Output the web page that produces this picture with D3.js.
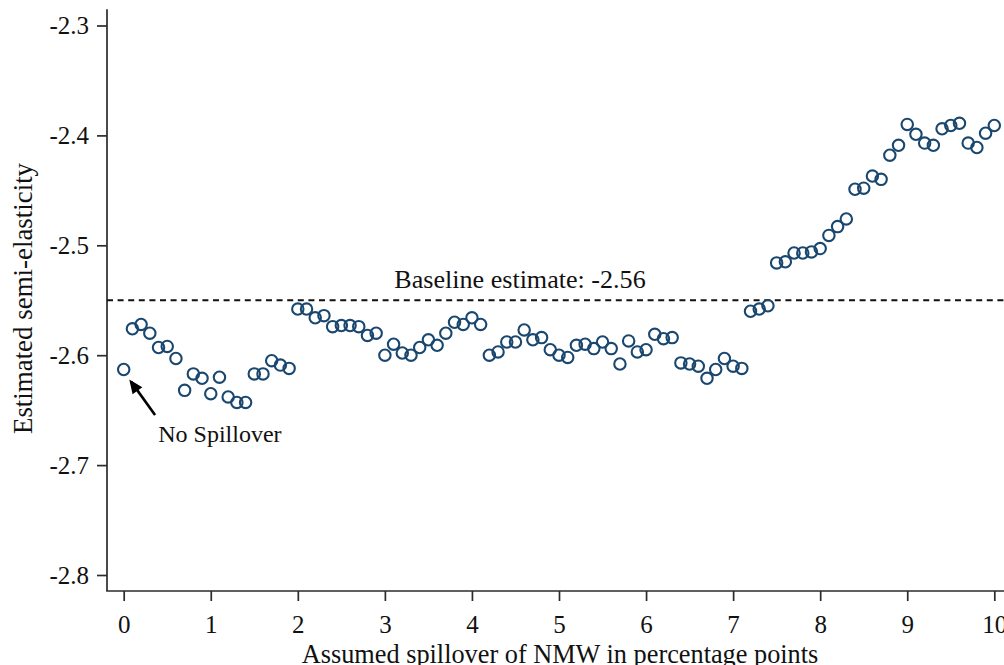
<!DOCTYPE html>
<html><head><meta charset="utf-8">
<script src="https://cdn.jsdelivr.net/npm/d3@7"></script>
<style>
body{margin:0;background:#fff;overflow:hidden;}
svg text{font-family:"Liberation Serif","Times New Roman",serif;fill:#111;}
</style>
</head><body>
<svg id="c" width="1004" height="665"></svg>
<script>
// ---- data ----
const spillover = [0,0.1,0.2,0.3,0.4,0.5,0.6,0.7,0.8,0.9,
  1,1.1,1.2,1.3,1.4,1.5,1.6,1.7,1.8,1.9,
  2,2.1,2.2,2.3,2.4,2.5,2.6,2.7,2.8,2.9,
  3,3.1,3.2,3.3,3.4,3.5,3.6,3.7,3.8,3.9,
  4,4.1,4.2,4.3,4.4,4.5,4.6,4.7,4.8,4.9,
  5,5.1,5.2,5.3,5.4,5.5,5.6,5.7,5.8,5.9,
  6,6.1,6.2,6.3,6.4,6.5,6.6,6.7,6.8,6.9,
  7,7.1,7.2,7.3,7.4,7.5,7.6,7.7,7.8,7.9,
  8,8.1,8.2,8.3,8.4,8.5,8.6,8.7,8.8,8.9,
  9,9.1,9.2,9.3,9.4,9.5,9.6,9.7,9.8,9.9,10];
const semiElasticity = [
  -2.613,-2.576,-2.572,-2.580,-2.593,-2.592,-2.603,-2.632,-2.617,-2.621,
  -2.635,-2.620,-2.638,-2.643,-2.643,-2.617,-2.617,-2.605,-2.609,-2.612,
  -2.558,-2.558,-2.566,-2.564,-2.574,-2.573,-2.573,-2.574,-2.582,-2.580,
  -2.600,-2.590,-2.598,-2.600,-2.593,-2.586,-2.591,-2.580,-2.570,-2.572,
  -2.566,-2.572,-2.600,-2.597,-2.588,-2.588,-2.577,-2.586,-2.584,-2.595,
  -2.600,-2.602,-2.591,-2.590,-2.594,-2.588,-2.594,-2.608,-2.587,-2.597,
  -2.595,-2.581,-2.585,-2.584,-2.607,-2.608,-2.610,-2.621,-2.613,-2.603,
  -2.610,-2.612,-2.560,-2.558,-2.555,-2.516,-2.515,-2.507,-2.507,-2.506,
  -2.503,-2.491,-2.483,-2.476,-2.449,-2.448,-2.437,-2.440,-2.418,-2.409,
  -2.390,-2.399,-2.407,-2.409,-2.394,-2.391,-2.389,-2.407,-2.411,-2.398,
  -2.391];
const baselineValue = -2.55;
const baselineLabel = "Baseline estimate: -2.56";
const xTicks = [0,1,2,3,4,5,6,7,8,9,10];
const xTickLabels = ["0","1","2","3","4","5","6","7","8","9","10"];
const yTicks = [-2.3,-2.4,-2.5,-2.6,-2.7,-2.8];
const yTickLabels = ["-2.3","-2.4","-2.5","-2.6","-2.7","-2.8"];
const xTitle = "Assumed spillover of NMW in percentage points";
const yTitle = "Estimated semi-elasticity";
const noteText = "No Spillover";

// ---- layout ----
const svg = d3.select("#c");
const FS = 24, TICKFS = 25;
const axisColor = "#2b2b2b";
const markColor = "#1a476f";
const x = d3.scaleLinear().domain([0,10]).range([123.7,994.3]);
const y = d3.scaleLinear().domain([-2.8,-2.3]).range([575,25.5]);
const axisX = 107, axisY = 591;

// axes lines
svg.append("line").attr("x1",axisX).attr("x2",axisX).attr("y1",9.3).attr("y2",axisY)
  .attr("stroke",axisColor).attr("stroke-width",1.7);
svg.append("line").attr("x1",axisX-0.8).attr("x2",1004).attr("y1",axisY).attr("y2",axisY)
  .attr("stroke",axisColor).attr("stroke-width",1.7);

const gy = svg.append("g").attr("transform",`translate(${axisX},0)`)
  .call(d3.axisLeft(y).tickValues(yTicks).tickSize(10).tickPadding(8)
    .tickFormat((d,i)=>yTickLabels[i]));
const gx = svg.append("g").attr("transform",`translate(0,${axisY})`)
  .call(d3.axisBottom(x).tickValues(xTicks).tickSize(10).tickPadding(14)
    .tickFormat((d,i)=>xTickLabels[i]));
[gy,gx].forEach(g=>{
  g.select(".domain").remove();
  g.selectAll(".tick line").attr("stroke",axisColor).attr("stroke-width",1.7);
  g.selectAll(".tick text").attr("font-size",TICKFS)
    .attr("font-family",'"Liberation Serif","Times New Roman",serif').attr("fill","#111");
});

// axis titles
svg.append("text").attr("transform",`translate(32,${298.5}) rotate(-90)`)
  .attr("text-anchor","middle").attr("font-size",26.9).text(yTitle);
svg.append("text").attr("x",560).attr("y",663)
  .attr("text-anchor","middle").attr("font-size",26.3).text(xTitle);

// baseline dashed line
svg.append("line").attr("x1",axisX).attr("x2",1004)
  .attr("y1",y(baselineValue)).attr("y2",y(baselineValue))
  .attr("stroke","#111").attr("stroke-width",2).attr("stroke-dasharray","6,4.6");
svg.append("text").attr("x",x(4.552)).attr("y",y(-2.5389))
  .attr("text-anchor","middle").attr("font-size",26.1).text(baselineLabel);

// points
svg.append("g").selectAll("circle").data(spillover).join("circle")
  .attr("cx",d=>x(d)).attr("cy",(d,i)=>y(semiElasticity[i]))
  .attr("r",5.7).attr("fill","none").attr("stroke",markColor).attr("stroke-width",2.1);

// annotation arrow
const tip = [x(0.064), y(-2.622)], tail = [x(0.36), y(-2.6545)];
svg.append("line").attr("x1",tail[0]).attr("y1",tail[1]).attr("x2",tip[0]+2).attr("y2",tip[1]+2.5)
  .attr("stroke","#000").attr("stroke-width",2.6);
(function(){
  const dx = tip[0]-tail[0], dy = tip[1]-tail[1], L = Math.hypot(dx,dy);
  const ux = dx/L, uy = dy/L, len = 14, hw = 6;
  const bx = tip[0]-ux*len, by = tip[1]-uy*len;
  const pts = [[tip[0],tip[1]],[bx-uy*hw,by+ux*hw],[bx+uy*hw,by-ux*hw]];
  svg.append("polygon").attr("points",pts.map(p=>p.join(",")).join(" ")).attr("fill","#000");
})();
svg.append("text").attr("x",x(0.397)).attr("y",y(-2.6788))
  .attr("font-size",FS).text(noteText);
</script>
</body></html>
